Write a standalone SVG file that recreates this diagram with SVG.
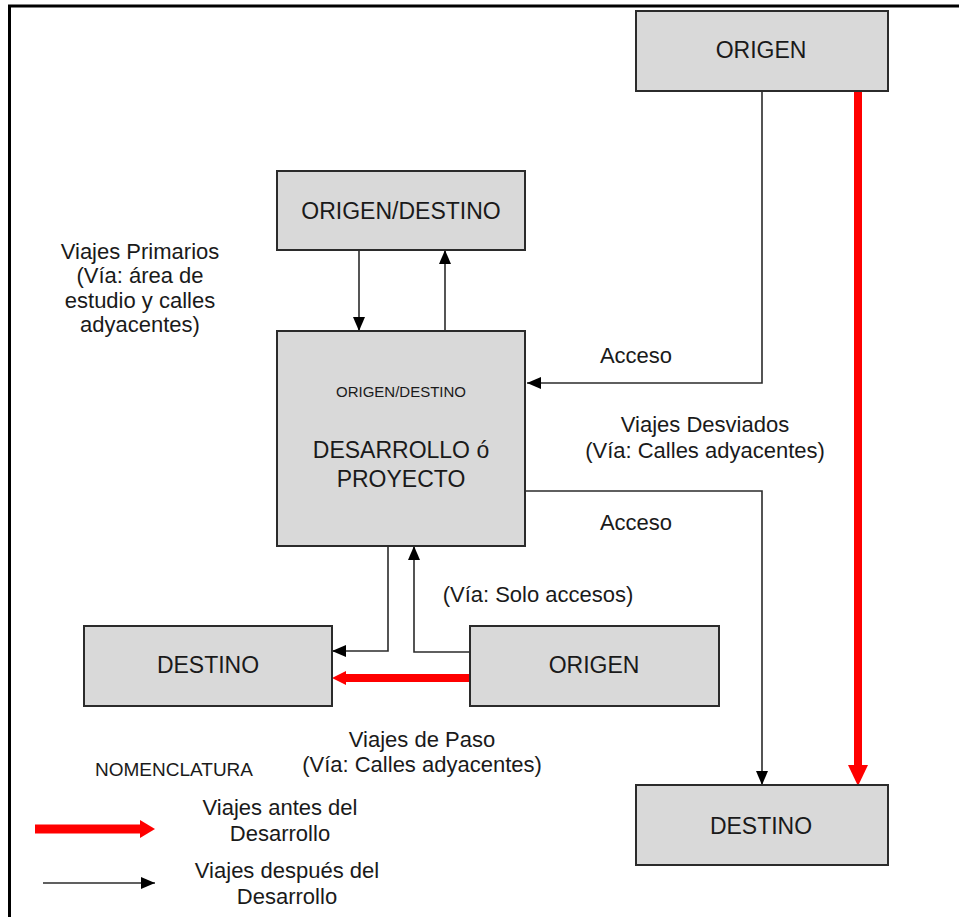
<svg xmlns="http://www.w3.org/2000/svg" width="959" height="917" viewBox="0 0 959 917">
<style>
.box{fill:#d9d9d9;stroke:#2b2b2b;stroke-width:2}
.t{font-family:"Liberation Sans",Arial,sans-serif;fill:#1a1a1a;text-anchor:middle}
.bl{font-size:23px}
.lb{font-size:22px}
.c{fill:none;stroke:#2b2b2b;stroke-width:1.6}
.r{fill:none;stroke:#ff0000;stroke-width:8}
</style>
<defs>
<marker id="ah" viewBox="0 0 14 12" refX="14" refY="6" markerWidth="14" markerHeight="12" markerUnits="userSpaceOnUse" orient="auto">
<path d="M0,0 L14,6 L0,12 Z" fill="#000"/>
</marker>
</defs>
<rect width="959" height="917" fill="#fff"/>
<path d="M9.5,917 V6 H959" fill="none" stroke="#000" stroke-width="3"/>

<g id="connectors">
<path class="c" d="M762,91 V383 H527" marker-end="url(#ah)"/>
<path class="c" d="M525,491 H762 V785" marker-end="url(#ah)"/>
<path class="c" d="M359,250 V331" marker-end="url(#ah)"/>
<path class="c" d="M445,331 V250" marker-end="url(#ah)"/>
<path class="c" d="M388,546 V651 H332" marker-end="url(#ah)"/>
<path class="c" d="M470,652 H414 V546" marker-end="url(#ah)"/>
<path class="r" d="M858,91 V766"/>
<path d="M848,765 L868,765 L858,786 Z" fill="#ff0000"/>
<path class="r" d="M470,678 H344" stroke-width="9"/>
<path d="M346,671 L346,685 L332,678 Z" fill="#ff0000"/>
</g>

<g id="origen-top"><rect class="box" x="636" y="11" width="252" height="80"/><text class="t bl" x="761" y="58">ORIGEN</text></g>
<g id="od-top"><rect class="box" x="277" y="171" width="248" height="79"/><text class="t bl" x="401" y="219">ORIGEN/DESTINO</text></g>
<g id="desarrollo"><rect class="box" x="277" y="331" width="248" height="215"/>
<text class="t" style="font-size:15px" x="401" y="397">ORIGEN/DESTINO</text>
<text class="t bl" x="401" y="458">DESARROLLO ó</text>
<text class="t bl" x="401" y="487">PROYECTO</text></g>
<g id="destino-left"><rect class="box" x="84" y="626" width="248" height="80"/><text class="t bl" x="208" y="673">DESTINO</text></g>
<g id="origen-bottom"><rect class="box" x="470" y="626" width="249" height="80"/><text class="t bl" x="594" y="673">ORIGEN</text></g>
<g id="destino-right"><rect class="box" x="636" y="785" width="252" height="80"/><text class="t bl" x="761" y="834">DESTINO</text></g>

<g id="labels">
<text class="t lb" x="140" y="259">Viajes Primarios</text>
<text class="t lb" x="140" y="283">(Vía: área de</text>
<text class="t lb" x="140" y="308">estudio y calles</text>
<text class="t lb" x="140" y="332">adyacentes)</text>
<text class="t lb" x="636" y="363">Acceso</text>
<text class="t lb" x="705" y="432">Viajes Desviados</text>
<text class="t lb" x="705" y="458">(Vía: Calles adyacentes)</text>
<text class="t lb" x="636" y="530">Acceso</text>
<text class="t lb" x="538" y="602">(Vía: Solo accesos)</text>
<text class="t lb" x="422" y="747">Viajes de Paso</text>
<text class="t lb" x="422" y="772">(Vía: Calles adyacentes)</text>
</g>

<g id="legend">
<text class="t" style="font-size:19px" x="174" y="776">NOMENCLATURA</text>
<path d="M35,829 H142" stroke="#ff0000" stroke-width="9" fill="none"/>
<path d="M140,820 L155,829 L140,838 Z" fill="#ff0000"/>
<text class="t lb" x="280" y="815">Viajes antes del</text>
<text class="t lb" x="280" y="841">Desarrollo</text>
<path class="c" d="M43,883 H155" marker-end="url(#ah)"/>
<text class="t lb" x="287" y="878">Viajes después del</text>
<text class="t lb" x="287" y="904">Desarrollo</text>
</g>
</svg>
